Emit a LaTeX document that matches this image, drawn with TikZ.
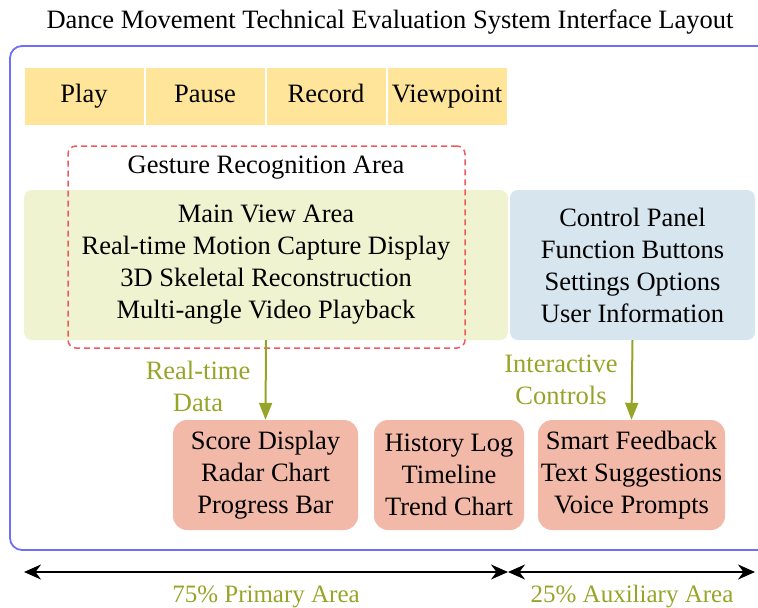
\documentclass[tikz,border=0pt]{standalone}
\usepackage{fontspec}
\setmainfont{Liberation Serif}
\usepackage{xcolor}
\usepackage{tikz}
\usetikzlibrary{arrows.meta, positioning}
\definecolor{FrameBlue}{RGB}{110, 110, 250}
\definecolor{ToolYellow}{RGB}{255, 229, 153}
\definecolor{ViewGreen}{RGB}{240, 243, 208}
\definecolor{PanelBlue}{RGB}{214, 229, 238}
\definecolor{CardSalmon}{RGB}{242, 185, 168}
\definecolor{GestureRed}{RGB}{240, 90, 95}
\definecolor{DataOlive}{RGB}{150, 165, 40}
\begin{document}
\begin{tikzpicture}[
        x=1pt, y=-1pt,
        every node/.style={font=\fontsize{26.5}{32}\selectfont},
        oneline/.style={text height=18pt, text depth=6pt},
        tool/.style={oneline, draw=white, line width=1pt, fill=ToolYellow, minimum width=120pt, minimum height=58pt, inner sep=0pt},
        area/.style={rounded corners=8pt, align=center, minimum height=150pt, inner sep=0pt},
        card/.style={fill=CardSalmon, rounded corners=14pt, align=center, minimum height=110pt, inner sep=0pt},
        flow/.style={DataOlive, line width=2pt, -{Triangle[length=17pt, width=13pt]}},
        note/.style={text=DataOlive, align=center},
        span/.style={black, line width=1.8pt, {Stealth[length=17pt, width=15pt]}-{Stealth[length=17pt, width=15pt]}}
    ]
    \useasboundingbox (0,0) rectangle (758,608);

    % Titel
    \node[oneline] (title) at (390,22) {Dance Movement Technical Evaluation System Interface Layout};

    % Rahmen
    \draw[FrameBlue, line width=1.8pt, rounded corners=12pt] (10,46) rectangle (780,550);

    % Werkzeugleiste
    \node[tool] (play) at (84,96) {Play};
    \node[tool, right=0pt of play] (pause) {Pause};
    \node[tool, right=0pt of pause] (record) {Record};
    \node[tool, right=0pt of record] (view) {Viewpoint};

    % Hauptbereich und Steuerung
    \node[area, fill=ViewGreen, minimum width=484pt] (main) at (266,265)
        {Main View Area\\Real-time Motion Capture Display\\3D Skeletal Reconstruction\\Multi-angle Video Playback};
    \node[area, fill=PanelBlue, minimum width=245pt] (panel) at (632.5,265)
        {Control Panel\\Function Buttons\\Settings Options\\User Information};

    % Gestenbereich
    \node[draw=GestureRed, dash pattern=on 6pt off 4pt, line width=1.5pt, rounded corners=8pt, minimum width=397pt, minimum height=202pt] (gesture) at (266.5,247) {};
    \node[oneline] (gtitle) at (266,167) {Gesture Recognition Area};

    % Karten unten
    \node[card, minimum width=185pt] (score) at (265.5,475) {Score Display\\Radar Chart\\Progress Bar};
    \node[card, minimum width=150pt] (history) at (449,475) {History Log\\Timeline\\Trend Chart};
    \node[card, minimum width=187pt] (feedback) at (631.5,475) {Smart Feedback\\Text Suggestions\\Voice Prompts};

    % Datenfluss
    \draw[flow] (main.south) -- (score.north);
    \draw[flow] (panel.south) -- (feedback.north);
    \node[note] (rtdata) at (198,386) {Real-time\\Data};
    \node[note] (ictrl) at (561,380) {Interactive\\Controls};

    % Flächenaufteilung
    \coordinate (spanL) at (24,572);
    \coordinate (spanM) at (508,572);
    \coordinate (spanR) at (755,572);
    \draw[span] (spanL) -- (spanM);
    \draw[span] (spanM) -- (spanR);
    \node[note, oneline, font=\fontsize{25}{30}\selectfont] (primary) at (266,596) {75\% Primary Area};
    \node[note, oneline, font=\fontsize{25}{30}\selectfont] (aux) at (632,596) {25\% Auxiliary Area};

\end{tikzpicture}
\end{document}
